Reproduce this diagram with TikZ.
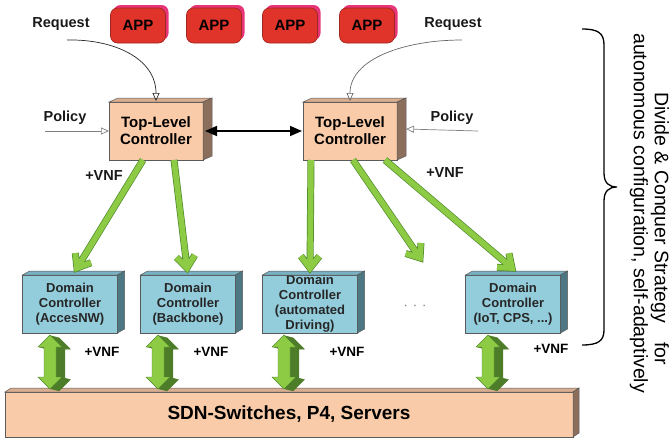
\documentclass[tikz,border=0pt]{standalone}
\usepackage{fontspec}
\setmainfont{Liberation Sans}
\usetikzlibrary{arrows.meta,calc,shadows}

\definecolor{peach}{HTML}{F9CBA8}
\definecolor{peachtop}{HTML}{D9AD8F}
\definecolor{peachside}{HTML}{8C6E5C}
\definecolor{dcblue}{HTML}{93CDDC}
\definecolor{dctop}{HTML}{78B2C2}
\definecolor{dcside}{HTML}{4C7783}
\definecolor{appred}{HTML}{E0332A}
\definecolor{appedge}{HTML}{9E2520}
\definecolor{appshadow}{HTML}{E8357A}
\definecolor{glight}{HTML}{8DCB45}
\definecolor{gdark}{HTML}{4F8A2B}
\definecolor{gside}{HTML}{4E7D2A}
\definecolor{edge}{HTML}{5A5A5A}

\tikzset{
  ctrl/.style={draw=edge, line width=0.5pt, fill=peach, minimum width=94pt,
    minimum height=58pt, inner sep=0pt, outer sep=0pt, align=center,
    font=\fontsize{15}{17}\selectfont\bfseries},
  dombox/.style={draw=edge, line width=0.5pt, fill=dcblue, minimum width=95pt,
    minimum height=58pt, inner sep=0pt, outer sep=0pt, align=center,
    font=\fontsize{13}{15}\selectfont\bfseries, text=black!85},
  basebox/.style={draw=edge, line width=0.5pt, fill=peach, minimum width=568pt,
    minimum height=45pt, inner sep=0pt, outer sep=0pt,
    font=\fontsize{19}{22}\selectfont\bfseries},
  app/.style={draw=appedge, line width=0.6pt, fill=appred, rounded corners=7pt,
    minimum width=55pt, minimum height=35pt, inner sep=0pt,
    font=\fontsize{15}{17}\selectfont\bfseries,
    general shadow={fill=appshadow, draw=none, shadow xshift=3pt, shadow yshift=3pt}},
  lbl/.style={font=\fontsize{14.5}{17}\selectfont\bfseries, inner sep=1pt, text=black!90},
  vnf/.style={font=\fontsize{13.5}{16}\selectfont\bfseries, inner sep=1pt},
  side/.style={rotate=-90, anchor=west, inner sep=0pt, font=\fontsize{19.5}{22}\selectfont},
  feedline/.style={draw=gdark, double=glight, double distance=5.6pt, line width=0.7pt,
    line join=miter, line cap=butt},
  inlet/.style={line width=0.7pt, -{Triangle[fill=white, length=8pt, width=7pt]}},
  peer/.style={line width=1.6pt, {Triangle[length=12pt,width=10pt]}-{Triangle[length=12pt,width=10pt]}},
  dualshape/.style={insert path={(0,0) -- (12,12) -- (6,12) -- (6,42) -- (12,42) --
    (0,54) -- (-12,42) -- (-6,42) -- (-6,12) -- (-12,12) -- cycle}},
  dual/.pic={
    \foreach \k in {9,...,1}{\fill[gside, shift={(\k,0.25*\k)}, dualshape];}
    \filldraw[fill=glight, draw=gdark, line width=0.4pt, dualshape];
  }
}

% box with a top face and a right face: options, name, position, top colour, side colour, dx, dy, text
\newcommand{\solidbox}[8]{%
  \node[#1] (#2) at (#3) {#8};
  \filldraw[fill=#4, draw=edge, line width=0.5pt] (#2.north west) -- ++(#6,-#7)
    -- ($(#2.north east)+(#6,-#7)$) -- (#2.north east) -- cycle;
  \filldraw[fill=#5, draw=edge, line width=0.5pt] (#2.north east) -- ++(#6,-#7)
    -- ($(#2.south east)+(#6,-#7)$) -- (#2.south east) -- cycle;
}

% thick green feed arrow with an open chevron head
\newcommand{\feed}[2]{%
  \draw[feedline] (#1) -- ($(#2)!4pt!(#1)$)
    ($(#2)!15pt!38:(#1)$) -- (#2) -- ($(#2)!15pt!-38:(#1)$);
}

\begin{document}
\begin{tikzpicture}[x=1pt,y=-1pt]
\useasboundingbox (0,0) rectangle (671,439);

% applications
\node[app] (app1) at (138,25.5) {APP};
\node[app] (app2) at (214,25.5) {APP};
\node[app] (app3) at (290,25.5) {APP};
\node[app] (app4) at (367,25.5) {APP};

% top-level controllers
\solidbox{ctrl}{tlcL}{156,131}{peachtop}{peachside}{9}{4}{Top-Level\\Controller}
\solidbox{ctrl}{tlcR}{350,131}{peachtop}{peachside}{9}{4}{Top-Level\\Controller}

% infrastructure layer
\solidbox{basebox}{base}{289,414.5}{peachtop}{peachside}{6}{4}{SDN-Switches, P4, Servers}

% domain controllers
\solidbox{dombox}{dcA}{70,304}{dctop}{dcside}{7}{4}{Domain\\Controller\\(AccesNW)}
\solidbox{dombox}{dcB}{188,304}{dctop}{dcside}{7}{4}{Domain\\Controller\\(Backbone)}
\solidbox{dombox}{dcC}{310,304}{dctop}{dcside}{7}{4}{Domain\\Controller\\(automated\\Driving)}
\solidbox{dombox}{dcD}{513,304}{dctop}{dcside}{7}{4}{Domain\\Controller\\(IoT, CPS, ...)}

% requests and policies
\node[lbl] (reqL) at (61,24) {Request};
\node[lbl] (reqR) at (453,24) {Request};
\node[lbl] (polL) at (65,118) {Policy};
\node[lbl] (polR) at (452,118) {Policy};
\coordinate (reqLs) at (67,40);
\coordinate (reqRs) at (462,40);
\coordinate (polLs) at (45,131);
\coordinate (polRs) at (478,131);

\draw[inlet, black!85] (reqLs) .. controls +(48,-1) and +(0,-42) .. ($(tlcL.north)+(0,-1)$);
\draw[inlet, black!60] (reqRs) .. controls +(-58,0) and +(0,-42) .. ($(tlcR.north)+(0,-1)$);
\draw[inlet, black!50] (polLs) -- (tlcL.west);
\draw[inlet, black!50] (polRs) -- ($(tlcR.east)+(9,-2)$);

% peer link between the top-level controllers
\draw[peer] ($(tlcL.east)+(2,0)$) -- ($(tlcR.west)+(-1,0)$);

% delegation to the domain controllers
\coordinate (more) at (420,258);
\feed{$(tlcL.south)+(-13,0)$}{$(dcA.north)+(7,-7)$}
\feed{$(tlcL.south)+(18,0)$}{$(dcB.north)+(-1,-7)$}
\feed{$(tlcR.south)+(-39,0)$}{$(dcC.north)+(0,-7)$}
\feed{$(tlcR.south)+(3,0)$}{more}
\feed{$(tlcR.south)+(35,0)$}{$(dcD.north)+(-1,-7)$}

\node[lbl] (vnfL) at (104,176) {+VNF};
\node[lbl] (vnfR) at (445,173) {+VNF};
\node[text=black!55, font=\fontsize{13}{15}\selectfont] (dots) at (415,307) {·\hspace{5pt}·\hspace{5pt}·};

% links between domain controllers and the infrastructure
\pic at ($(dcA.south)+(-20,2)$) {dual};
\pic at ($(dcB.south)+(-30,2)$) {dual};
\pic at ($(dcC.south)+(-26,2)$) {dual};
\pic at ($(dcD.south)+(-25,2)$) {dual};

\node[vnf] (vnf1) at (102,352) {+VNF};
\node[vnf] (vnf2) at (211,352) {+VNF};
\node[vnf] (vnf3) at (347,352) {+VNF};
\node[vnf] (vnf4) at (551,349) {+VNF};

% strategy brace and its caption
\draw[line width=1.3pt] (582,29) .. controls (598,29) and (604,33) .. (604,45)
  -- (604,173) .. controls (604,183) and (609,187) .. (617,187)
  .. controls (609,187) and (604,191) .. (604,201)
  -- (604,330) .. controls (604,341) and (598,345) .. (582,345);
\node[side] (cap1) at (660,92) {Divide \& Conquer Strategy\hspace{19pt}for};
\node[side] (cap2) at (639,33) {autonomous configuration, self-adaptively};
\end{tikzpicture}
\end{document}
